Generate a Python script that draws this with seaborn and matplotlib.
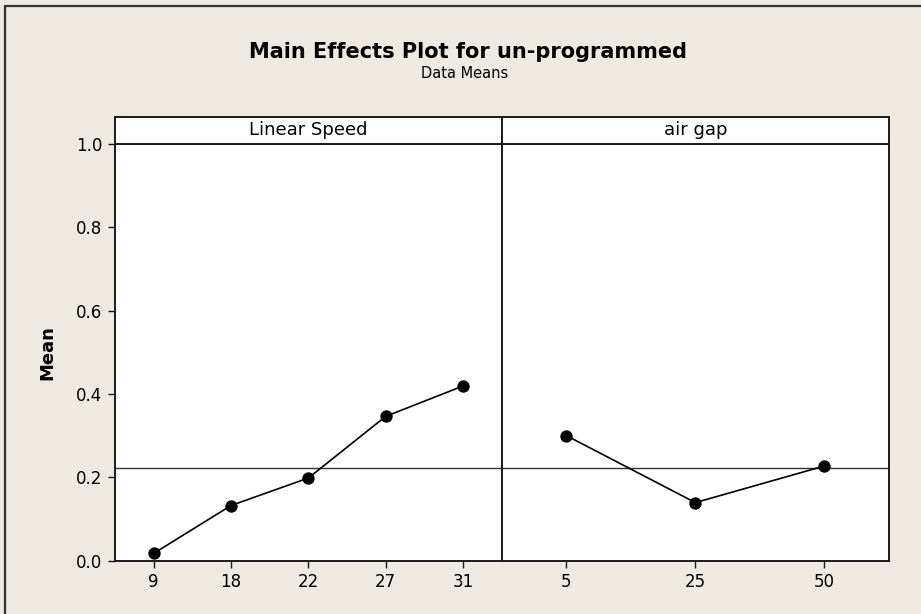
import matplotlib
matplotlib.use("Agg")
import matplotlib.pyplot as plt
import seaborn as sns
import pandas as pd
from matplotlib.patches import Rectangle

# --- Data ---
speed_levels = ['9', '18', '22', '27', '31']
speed_means = [0.017, 0.132, 0.198, 0.346, 0.419]

gap_levels = ['5', '25', '50']
gap_means = [0.300, 0.139, 0.227]

panel_titles = ['Linear Speed', 'air gap']
y_ticks = [0.0, 0.2, 0.4, 0.6, 0.8, 1.0]

BG = '#eeeae1'
INK = '#1a1a1a'

sns.set_style("white")
plt.rcParams['font.family'] = ['DejaVu Sans']
plt.rcParams['text.color'] = 'black'
plt.rcParams['xtick.color'] = INK
plt.rcParams['ytick.color'] = INK
plt.rcParams['xtick.labelcolor'] = 'black'
plt.rcParams['ytick.labelcolor'] = 'black'
plt.rcParams['axes.labelcolor'] = 'black'

W, H = 921, 614
fig = plt.figure(figsize=(W / 100, H / 100), dpi=100, facecolor=BG)

# grand mean of all observations (same for both factors)
grand_mean = (sum(speed_means) / len(speed_means) + sum(gap_means) / len(gap_means)) / 2


def px_box(x0, y0, x1, y1):
    # pixel box (top-left origin) -> figure fraction rect
    return [x0 / W, 1 - y1 / H, (x1 - x0) / W, (y1 - y0) / H]


left_x, mid_x, right_x = 115, 501.7, 889
top_y, bot_y, strip_top = 144, 560.5, 116.5

panels = [
    (left_x, mid_x, speed_levels, speed_means, panel_titles[0]),
    (mid_x, right_x, gap_levels, gap_means, panel_titles[1]),
]

for i, (x0, x1, levels, means, title) in enumerate(panels):
    ax = fig.add_axes(px_box(x0, top_y, x1, bot_y))
    ax.set_facecolor('white')
    df = pd.DataFrame({'level': levels, 'mean': means})
    sns.pointplot(data=df, x='level', y='mean', order=levels, color='black',
                  markers='o', linestyles='-', ax=ax,
                  linewidth=1.2, markersize=8)
    ax.axhline(grand_mean, color='#333333', lw=1.0, zorder=1)
    ax.set_xlim(-0.5, len(levels) - 0.5)
    ax.set_ylim(0, 1.0)
    ax.set_xlabel('')
    ax.set_ylabel('')
    ax.set_yticks(y_ticks)
    for s in ax.spines.values():
        s.set_color(INK)
        s.set_linewidth(1.4)
    ax.tick_params(axis='x', direction='out', length=5, width=1,
                   labelsize=12, pad=4, bottom=True)
    if i == 0:
        ax.set_yticklabels([f'{v:.1f}' for v in y_ticks])
        ax.tick_params(axis='y', direction='out', length=5, width=1,
                       labelsize=12, pad=4, left=True)
        ax.set_ylabel('Mean', fontsize=13, fontweight='bold', labelpad=14)
    else:
        ax.tick_params(axis='y', left=False, labelleft=False)

    # strip header
    sax = fig.add_axes(px_box(x0, strip_top, x1, top_y))
    sax.set_facecolor('white')
    sax.set_xticks([])
    sax.set_yticks([])
    for s in sax.spines.values():
        s.set_color(INK)
        s.set_linewidth(1.4)
    sax.text(0.5, 0.5, title, ha='center', va='center', fontsize=13,
             transform=sax.transAxes)

fig.text(0.508, 1 - 52 / H, 'Main Effects Plot for un-programmed', ha='center',
         va='center', fontsize=15, fontweight='bold')
fig.text(0.504, 1 - 73 / H, 'Data Means', ha='center', va='center', fontsize=10.5)

# outer frame (only top and left edges visible in the crop)
fig.add_artist(Rectangle((5 / W, -0.1), 1.2, 1.1 - 6.5 / H, transform=fig.transFigure,
                         fill=False, edgecolor='#333333', linewidth=1.6))

fig.savefig('out.png', dpi=100, facecolor=BG)
